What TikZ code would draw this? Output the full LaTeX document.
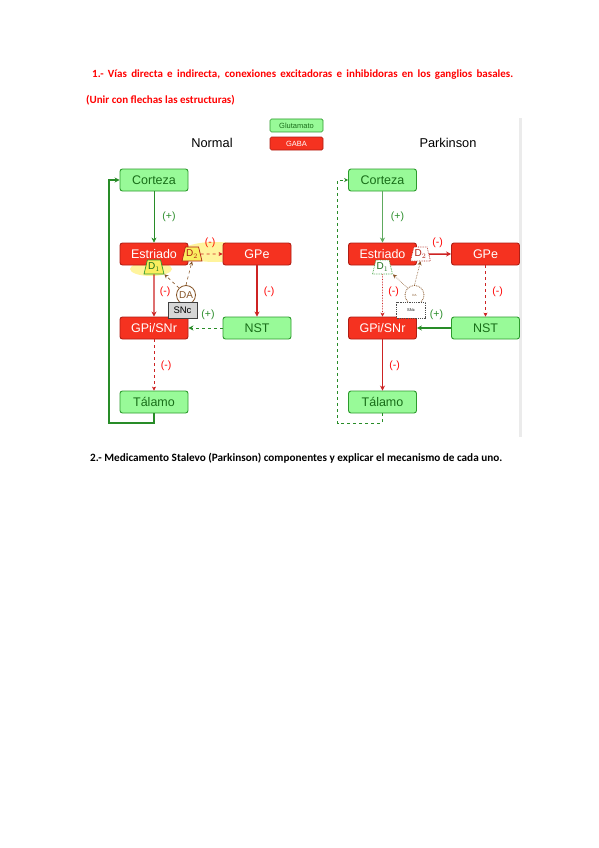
\documentclass[tikz,border=0pt]{standalone}
\usepackage{fontspec}
\setmainfont{Liberation Sans}
\newfontfamily\calfont{Carlito}
\usetikzlibrary{arrows.meta,shapes.geometric}
\definecolor{rfill}{RGB}{245,50,32}
\definecolor{rdraw}{RGB}{175,30,20}
\definecolor{gfill}{RGB}{152,250,152}
\definecolor{gdraw}{RGB}{45,155,45}
\definecolor{gtext}{RGB}{25,110,25}
\definecolor{garrow}{RGB}{40,140,40}
\definecolor{rarrow}{RGB}{205,35,35}
\definecolor{brownc}{RGB}{135,85,40}
\definecolor{hl}{RGB}{255,243,140}
\definecolor{trap}{RGB}{250,238,95}
\definecolor{titred}{RGB}{255,0,0}
\tikzset{
  box/.style={rounded corners=2.5pt,minimum width=68pt,minimum height=22pt,inner sep=0pt,line width=0.9pt,font=\fontsize{12.5}{13}\selectfont},
  gbox/.style={box,fill=gfill,draw=gdraw,text=gtext},
  rbox/.style={box,fill=rfill,draw=rdraw,text=white},
  lgbox/.style={rounded corners=1.5pt,minimum width=53pt,minimum height=13pt,inner sep=0pt,line width=0.7pt,font=\fontsize{7.5}{8}\selectfont},
  plus/.style={text=garrow,font=\fontsize{10.5}{11}\selectfont},
  minus/.style={text=red,font=\fontsize{10.5}{11}\selectfont},
  tip/.style={-{Stealth[length=5pt,width=5pt]}},
  smalltip/.style={-{Stealth[length=4pt,width=4pt]}},
  dtrap/.style={trapezium,trapezium stretches=true,trapezium left angle=70,trapezium right angle=70,minimum width=20pt,minimum height=14pt,inner sep=0pt,line width=0.7pt,font=\fontsize{10}{10}\selectfont},
  dacirc/.style={circle,minimum size=19pt,inner sep=0pt,line width=0.8pt,draw=brownc,fill=white,text=brownc},
  snc/.style={minimum width=29pt,minimum height=16pt,inner sep=0pt,line width=0.8pt},
  title/.style={text=titred,font=\calfont\bfseries\fontsize{11}{12}\selectfont,inner sep=0pt}
}
\begin{document}
\begin{tikzpicture}[x=1pt,y=-1pt]
\useasboundingbox[fill=white] (0,0) rectangle (599,848);

% titles
\node[title,anchor=west] (t1) at (92,75) {\makebox[421pt][s]{1.- Vías directa e indirecta, conexiones excitadoras e inhibidoras en los ganglios basales.}};
\node[title,anchor=west] (t2) at (86,100) {(Unir con flechas las estructuras)};
\node[anchor=west,inner sep=0pt,font=\calfont\bfseries\fontsize{11.2}{12}\selectfont] (t3) at (90,458) {2.- Medicamento Stalevo (Parkinson) componentes y explicar el mecanismo de cada uno.};

% right edge shade
\fill[black!8] (519,118) rectangle (521.5,437);

% legend
\node[lgbox,fill=gfill,draw=gdraw,text=gtext] (leg1) at (296.5,125.5) {Glutamato};
\node[lgbox,fill=rfill,draw=rdraw,text=white] (leg2) at (296.5,143.5) {GABA};
\node[font=\fontsize{12.8}{13}\selectfont] (lnorm) at (212,143) {Normal};
\node[font=\fontsize{12.8}{13}\selectfont] (lpark) at (448,143) {Parkinson};

%%%%%%%%%% NORMAL
\fill[hl,opacity=0.85] (215,252) ellipse (34 and 10);
\fill[hl,opacity=0.85] (151,269) ellipse (21 and 7);
\node[gbox] (cor) at (154,180) {Corteza};
\node[rbox] (est) at (154,254) {Estriado};
\node[rbox] (gpe) at (257,254) {GPe};
\node[rbox] (gpi) at (154,328) {GPi/SNr};
\node[gbox] (nst) at (257,328) {NST};
\node[gbox] (tal) at (154,402) {Tálamo};
\node[dtrap,fill=trap,draw=rdraw,text=rdraw] (d2) at (192,254) {D$_2$};
\node[dtrap,fill=trap,draw=gdraw,text=gtext] (d1) at (154,267) {D$_1$};
\node[dacirc,font=\fontsize{10}{10}\selectfont] (da) at (186,295) {DA};
\node[snc,fill=black!16,draw=black!75,font=\fontsize{9.5}{10}\selectfont] (snc) at (182.5,310) {SNc};

\draw[tip,garrow,line width=0.6pt] (cor) -- (est);
\node[plus] (p1) at (169,217) {(+)};
\coordinate (fb1) at (109,423);
\draw[tip,garrow,line width=1.8pt] (tal.south) |- (fb1) |- (cor.west);
\draw[smalltip,rarrow,dashed,line width=0.6pt] (d2.east) -- (gpe.west);
\node[minus,text=red!90!orange] (m1) at (210,243) {(-)};
\draw[tip,rarrow,line width=1.3pt] (d1.south) -- (gpi.north);
\node[minus] (m2) at (165,292) {(-)};
\draw[smalltip,brownc,dashed,line width=0.6pt] (da.north west) -- (d1.bottom right corner);
\draw[smalltip,brownc,dashed,line width=0.6pt] (da.north) -- (d2.south);
\draw[tip,rarrow,line width=1.3pt] (gpe.south) -- (nst.north);
\node[minus] (m3) at (269,292) {(-)};
\draw[tip,garrow,dashed,line width=0.9pt] (nst.west) -- (gpi.east);
\node[plus] (p2) at (208,315) {(+)};
\draw[smalltip,rarrow,dashed,line width=0.5pt] (gpi.south) -- (tal.north);
\node[minus] (m4) at (166,366) {(-)};

%%%%%%%%%% PARKINSON
\begin{scope}[xshift=228.5pt]
\node[gbox] (pcor) at (154,180) {Corteza};
\node[rbox] (pest) at (154,254) {Estriado};
\node[rbox] (pgpe) at (257,254) {GPe};
\node[rbox] (pgpi) at (154,328) {GPi/SNr};
\node[gbox] (pnst) at (257,328) {NST};
\node[gbox] (ptal) at (154,402) {Tálamo};
\node[dtrap,fill=white,draw=rdraw,densely dotted,text=rdraw] (pd2) at (192,254) {D$_2$};
\node[dtrap,fill=white,draw=gdraw,densely dotted,text=gtext] (pd1) at (154,267) {D$_1$};
\node[dacirc,densely dotted,font=\fontsize{3}{3}\selectfont] (pda) at (186,295) {DA};
\node[snc,fill=white,draw=black!70,densely dotted,font=\fontsize{4}{4}\selectfont] (psnc) at (182.5,310) {SNc};

\draw[tip,garrow!75,line width=0.8pt] (pcor) -- (pest);
\node[plus] (pp1) at (169,217) {(+)};
\coordinate (pfb1) at (109,423);
\draw[smalltip,garrow,dashed,line width=0.7pt] (ptal.south) |- (pfb1) |- (pcor.west);
\draw[tip,rarrow,line width=1.5pt] (pd2.east) -- (pgpe.west);
\node[minus] (pm1) at (209,243) {(-)};
\draw[smalltip,rarrow,densely dotted,line width=0.6pt] (pd1.south) -- (pgpi.north);
\node[minus] (pm2) at (165,292) {(-)};
\draw[smalltip,brownc,densely dotted,line width=0.6pt] (pda.north west) -- (pd1.bottom right corner);
\draw[smalltip,brownc,densely dotted,line width=0.6pt] (pda.north) -- (pd2.south);
\draw[smalltip,rarrow,dashed,line width=0.5pt] (pgpe.south) -- (pnst.north);
\node[minus] (pm3) at (269,292) {(-)};
\draw[tip,garrow,line width=1.6pt] (pnst.west) -- (pgpi.east);
\node[plus] (pp2) at (208,315) {(+)};
\draw[tip,rarrow,line width=1.5pt] (pgpi.south) -- (ptal.north);
\node[minus] (pm4) at (166,366) {(-)};
\end{scope}
\end{tikzpicture}
\end{document}
